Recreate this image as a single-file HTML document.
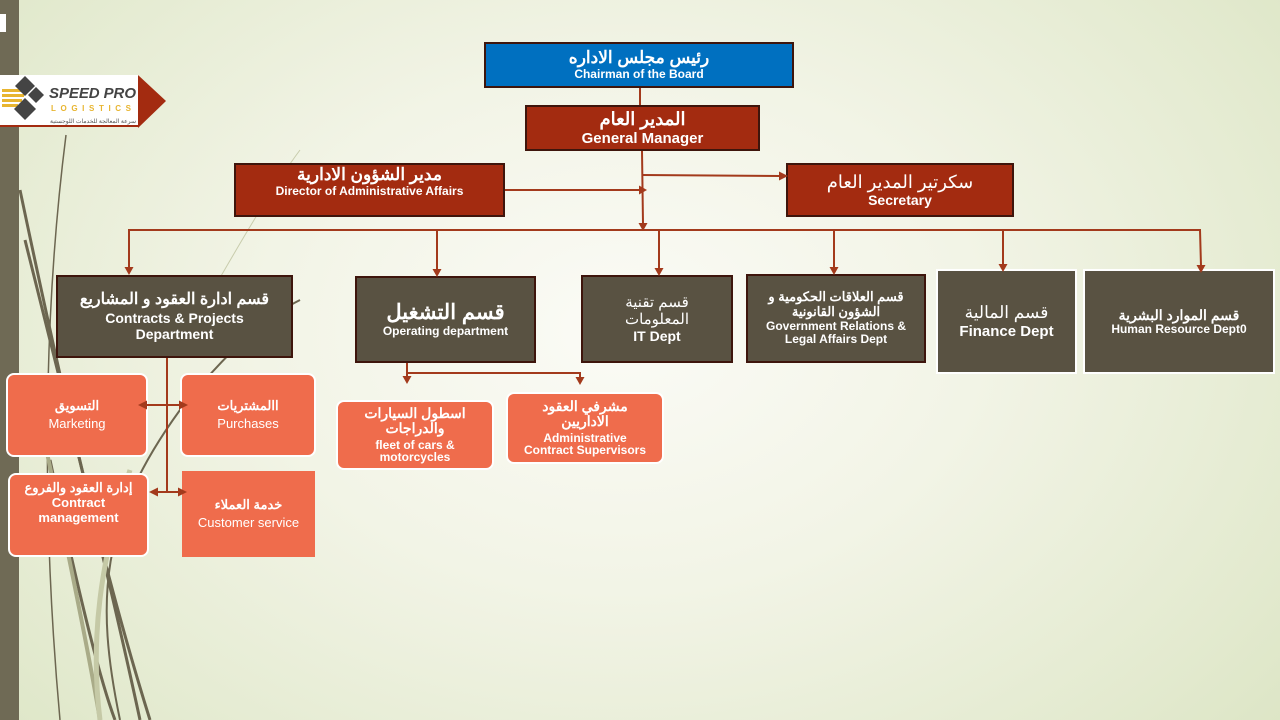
<!DOCTYPE html>
<html><head><meta charset="utf-8"><style>
*{margin:0;padding:0;box-sizing:border-box}
body{width:1280px;height:720px;overflow:hidden;position:relative;font-family:"Liberation Sans","Noto Sans CJK SC",sans-serif;
background:radial-gradient(ellipse 900px 650px at 620px 330px,#fbfbf6 0%,#f2f4e6 40%,#e3eacf 80%,#dbe4c3 100%);}
.b{position:absolute;display:flex;flex-direction:column;align-items:center;justify-content:center;text-align:center;color:#fff;font-weight:bold;line-height:1.15}
.red{background:#a32b10;border:2px solid #3e150c}
.dk{background:#595242;border:2px solid #3e150c}
.wb{background:#595242;border:2px solid #fff}
.or{background:#ef6c4c;border:2px solid #fff;border-radius:8px}
.n{font-weight:normal}
</style></head><body>
<div style="position:absolute;left:0;top:0;width:19px;height:720px;background:#6f6a55"></div>
<div style="position:absolute;left:0;top:14px;width:6px;height:18px;background:#fff"></div>
<svg style="position:absolute;left:0;top:0" width="1280" height="720">
<g fill="none" stroke="#6c6650" stroke-width="3">
<path d="M66 135 C45 300 40 500 60 720" stroke-width="1.5"/>
<path d="M20 190 C60 380 100 560 150 720"/>
<path d="M25 240 C70 420 110 580 140 720"/>
<path d="M50 460 C80 600 100 680 115 720"/>
<path d="M40 420 C70 560 90 660 100 720" stroke="#a9ab88" stroke-width="4"/>
<path d="M120 720 C95 600 100 520 180 410 C220 360 260 320 300 300" stroke-width="2"/>
<path d="M100 720 C90 640 100 560 130 470" stroke="#c5c9a6" stroke-width="5"/>
<path d="M190 330 C230 260 270 190 300 150" stroke="#c8ccac" stroke-width="1"/>
</g>
</svg>
<!-- logo -->
<div style="position:absolute;left:0;top:75px;width:139px;height:52px;background:#fff;border-bottom:2px solid #a32b10"></div>
<svg style="position:absolute;left:0;top:74px" width="170" height="56">
<path d="M138 1 L166 27 L138 54 Z" fill="#a32b10"/>
<g fill="#e8b530"><rect x="2" y="15" width="20" height="3"/><rect x="2" y="20" width="22" height="3"/><rect x="2" y="25" width="20" height="3"/><rect x="2" y="30" width="16" height="3"/></g>
<g fill="#444"><path d="M25 2 l10 10 -10 10 -10 -10z"/><path d="M36 13 l8 8 -8 8 -8 -8z"/><path d="M25 24 l11 11 -11 11 -11 -11z"/></g>
<text x="49" y="24" font-family="Liberation Sans" font-weight="bold" font-style="italic" font-size="15" fill="#444" textLength="87">SPEED PRO</text>
<text x="51" y="37" font-family="Liberation Sans" font-weight="bold" font-size="8" fill="#e8b530" textLength="80">LOGISTICS</text>
<text x="50" y="49" font-family="Liberation Sans" font-size="6" fill="#555" textLength="86">سرعة المعالجة للخدمات اللوجستية</text>
</svg>

<div class="b" style="left:484px;top:42px;width:310px;height:46px;background:#0070c0;border:2px solid #3e150c"><div style="font-size:17px">رئيس مجلس الاداره</div><div style="font-size:12px">Chairman of the Board</div></div>
<div class="b red" style="left:525px;top:105px;width:235px;height:46px"><div style="font-size:18px">المدير العام</div><div style="font-size:15px">General Manager</div></div>
<div class="b red" style="left:234px;top:163px;width:271px;height:54px;justify-content:flex-start"><div style="font-size:17px">مدير الشؤون الادارية</div><div style="font-size:12px">Director of Administrative Affairs</div></div>
<div class="b red" style="left:786px;top:163px;width:228px;height:54px"><div style="font-size:18px;font-weight:normal">سكرتير المدير العام</div><div style="font-size:14px">Secretary</div></div>

<div class="b dk" style="left:56px;top:275px;width:237px;height:83px"><div style="font-size:16px">قسم ادارة العقود و المشاريع</div><div style="font-size:14px">Contracts &amp; Projects<br>Department</div></div>
<div class="b dk" style="left:355px;top:276px;width:181px;height:87px"><div style="font-size:21px">قسم التشغيل</div><div style="font-size:12px">Operating department</div></div>
<div class="b dk" style="left:581px;top:275px;width:152px;height:88px"><div style="font-size:15px;font-weight:normal">قسم تقنية<br>المعلومات</div><div style="font-size:14px">IT Dept</div></div>
<div class="b dk" style="left:746px;top:274px;width:180px;height:89px"><div style="font-size:13px">قسم العلاقات الحكومية و<br>الشؤون القانونية</div><div style="font-size:12px">Government Relations &amp;<br>Legal Affairs Dept</div></div>
<div class="b wb" style="left:936px;top:269px;width:141px;height:105px"><div style="font-size:17px;font-weight:normal">قسم المالية</div><div style="font-size:15px">Finance Dept</div></div>
<div class="b wb" style="left:1083px;top:269px;width:192px;height:105px"><div style="font-size:14px">قسم الموارد البشرية</div><div style="font-size:12px">Human Resource Dept0</div></div>

<div class="b or" style="left:6px;top:373px;width:142px;height:84px"><div style="font-size:13px">التسويق</div><div class="n" style="font-size:13px;margin-top:3px">Marketing</div></div>
<div class="b or" style="left:180px;top:373px;width:136px;height:84px"><div style="font-size:13px">االمشتريات</div><div class="n" style="font-size:13px;margin-top:3px">Purchases</div></div>
<div class="b or" style="left:8px;top:473px;width:141px;height:84px;justify-content:flex-start;padding-top:6px"><div style="font-size:13px">إدارة العقود والفروع</div><div style="font-size:13px">Contract<br>management</div></div>
<div class="b" style="left:182px;top:471px;width:133px;height:86px;background:#ef6c4c"><div style="font-size:13px">خدمة العملاء</div><div class="n" style="font-size:13px;margin-top:3px">Customer service</div></div>
<div class="b or" style="left:336px;top:400px;width:158px;height:70px;line-height:1.05"><div style="font-size:14px">اسطول السيارات<br>والدراجات</div><div style="font-size:12px;margin-top:3px">fleet of cars &amp;<br>motorcycles</div></div>
<div class="b or" style="left:506px;top:392px;width:158px;height:72px;line-height:1.05"><div style="font-size:14px">مشرفي العقود<br>الاداريين</div><div style="font-size:12px;margin-top:3px">Administrative<br>Contract Supervisors</div></div>

<svg style="position:absolute;left:0;top:0" width="1280" height="720">
<g stroke="#a33a1c" stroke-width="2" fill="none">
<line x1="640" y1="88" x2="640" y2="105"/>
<line x1="642" y1="151" x2="643" y2="224"/>
<line x1="505" y1="190" x2="640" y2="190"/>
<line x1="642" y1="175" x2="780" y2="176"/>
<polyline points="129,268 129,230 1200,230 1201,266"/>
<line x1="437" y1="230" x2="437" y2="270"/>
<line x1="659" y1="230" x2="659" y2="269"/>
<line x1="834" y1="230" x2="834" y2="268"/>
<line x1="1003" y1="230" x2="1003" y2="265"/>
<line x1="167" y1="358" x2="167" y2="492"/>
<line x1="145" y1="405" x2="181" y2="405"/>
<line x1="156" y1="492" x2="179" y2="492"/>
<polyline points="407,363 407,377"/>
<polyline points="407,373 580,373 580,378"/>
</g>
<g fill="#a33a1c">
<path d="M647 190 l-8 -4.5 v9z"/><path d="M788 176 l-9 -4.5 v9z"/>
<path d="M643 231 l-4.5 -8 h9z"/>
<path d="M129 275 l-4.5 -8 h9z"/><path d="M437 277 l-4.5 -8 h9z"/><path d="M659 276 l-4.5 -8 h9z"/>
<path d="M834 275 l-4.5 -8 h9z"/><path d="M1003 272 l-4.5 -8 h9z"/><path d="M1201 273 l-4.5 -8 h9z"/>
<path d="M138 405 l9 -4.5 v9z"/><path d="M188 405 l-9 -4.5 v9z"/>
<path d="M149 492 l9 -4.5 v9z"/><path d="M187 492 l-9 -4.5 v9z"/>
<path d="M407 384 l-4.5 -8 h9z"/><path d="M580 385 l-4.5 -8 h9z"/>
</g>
</svg>
</body></html>
